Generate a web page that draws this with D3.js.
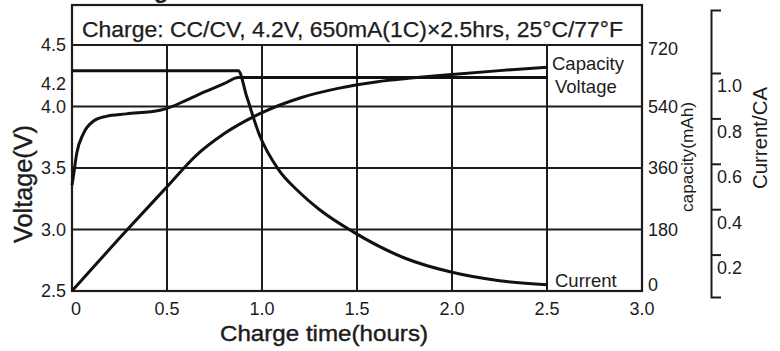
<!DOCTYPE html>
<html>
<head>
<meta charset="utf-8">
<script src="https://cdn.jsdelivr.net/npm/d3@7"></script>
<style>
  html, body { margin: 0; padding: 0; background: #fff; }
  svg { display: block; font-family: "Liberation Sans", Arial, sans-serif; }
</style>
</head>
<body>
<svg id="chart" width="780" height="351"></svg>
<script>
// Charge curve of a 650 mAh cell at CC/CV 4.2 V, 1C.
const titleText = "Charge: CC/CV, 4.2V, 650mA(1C)\u00D72.5hrs, 25\u00B0C/77\u00B0F";
const headerText = "Charge Characteristics";

// Time axis (hours)
const timeTicks = [0, 0.5, 1.0, 1.5, 2.0, 2.5, 3.0];
// Voltage axis (V)
const voltageTicks = [2.5, 3.0, 3.5, 4.0, 4.2, 4.5];
const voltageGrid = [3.0, 3.5, 4.0];
// Capacity axis (mAh)
const capacityTicks = [0, 180, 360, 540, 720];
// Current axis (C)
const currentTicks = [0.2, 0.4, 0.6, 0.8, 1.0];

// Voltage vs time
const voltageTime = [0, 0.007, 0.025, 0.06, 0.112, 0.18, 0.286, 0.463, 0.5, 0.6, 0.7, 0.8, 0.875, 1.5, 2.0, 2.5];
const voltage     = [3.36, 3.43, 3.62, 3.78, 3.88, 3.92, 3.94, 3.97, 3.985, 4.05, 4.12, 4.185, 4.235, 4.235, 4.235, 4.235];

// Capacity vs time
const capacityTime = [0, 0.3, 0.5, 0.65, 0.8, 1.0, 1.2, 1.4, 1.6, 1.8, 2.0, 2.25, 2.5];
const capacity     = [0, 185, 305, 395, 460, 522, 565, 593, 612, 624, 634, 645, 655];

// Current vs time
const currentTime = [0, 0.875, 0.92, 0.99, 1.084, 1.19, 1.3, 1.48, 1.75, 2.0, 2.25, 2.5];
const current     = [1.01, 1.01, 0.895, 0.72, 0.578, 0.48, 0.40, 0.30, 0.185, 0.122, 0.085, 0.067];

const ink = "#1c1c1c";
const svg = d3.select("#chart");

const plot = { left: 72, right: 642, top: 45, bottom: 291, boxTop: 5 };

const x = d3.scaleLinear().domain([0, 3]).range([plot.left, plot.right]);
const yV = d3.scaleLinear().domain([2.5, 4.5]).range([plot.bottom, plot.top]);
const yCap = d3.scaleLinear().domain([0, 720]).range([plot.bottom, plot.top]);
const yCur = d3.scaleLinear().domain([0, 1]).range([300, 73]);

// Header above the frame (runs off the top edge)
svg.append("text")
  .attr("x", 99).attr("y", -2)
  .attr("font-size", 24).attr("font-weight", "bold")
  .attr("fill", ink)
  .text(headerText);

// Grid
const grid = svg.append("g").attr("stroke", ink).attr("stroke-width", 2);
grid.selectAll("line.v").data(timeTicks.filter(t => t > 0 && t < 3)).join("line")
  .attr("class", "v")
  .attr("x1", d => x(d)).attr("x2", d => x(d))
  .attr("y1", plot.top).attr("y2", plot.bottom);
grid.selectAll("line.h").data(voltageGrid).join("line")
  .attr("class", "h")
  .attr("x1", plot.left).attr("x2", plot.right)
  .attr("y1", d => yV(d)).attr("y2", d => yV(d));

// Frame with title strip
svg.append("rect")
  .attr("x", plot.left).attr("y", plot.boxTop)
  .attr("width", plot.right - plot.left).attr("height", plot.bottom - plot.boxTop)
  .attr("fill", "none").attr("stroke", ink).attr("stroke-width", 2.2);
svg.append("line")
  .attr("x1", plot.left).attr("x2", plot.right)
  .attr("y1", yV(4.5)).attr("y2", yV(4.5))
  .attr("stroke", ink).attr("stroke-width", 2.2);

svg.append("text")
  .attr("x", 82).attr("y", 37)
  .attr("font-size", 21.5)
  .attr("fill", ink).attr("stroke", ink).attr("stroke-width", 0.25)
  .attr("textLength", 541).attr("lengthAdjust", "spacingAndGlyphs")
  .text(titleText);

// Curves
const curveLine = (xs, ys, yScale) => d3.line()
  .x((d, i) => x(xs[i]))
  .y(d => yScale(d))
  .curve(d3.curveMonotoneX)(ys);

const curves = svg.append("g")
  .attr("fill", "none").attr("stroke", "#111")
  .attr("stroke-width", 3).attr("stroke-linejoin", "round");
curves.append("path").attr("d", curveLine(voltageTime, voltage, yV));
curves.append("path").attr("d", curveLine(capacityTime, capacity, yCap));
curves.append("path").attr("d", curveLine(currentTime, current, yCur));

// Series labels
const seriesLabels = svg.append("g").attr("font-size", 18.5).attr("fill", ink);
seriesLabels.append("text").attr("x", 552).attr("y", 70).text("Capacity");
seriesLabels.append("text").attr("x", 555).attr("y", 93).text("Voltage");
seriesLabels.append("text").attr("x", 555).attr("y", 287).text("Current");

// Left voltage tick labels
svg.append("g").attr("font-size", 18).attr("fill", ink).attr("text-anchor", "end")
  .selectAll("text").data(voltageTicks).join("text")
  .attr("x", 66)
  .attr("y", d => yV(d) + (d === 4.2 ? 2 : 0))
  .attr("dy", "0.36em")
  .text(d => d3.format(".1f")(d));

// Bottom time tick labels
svg.append("g").attr("font-size", 18).attr("fill", ink).attr("text-anchor", "middle")
  .selectAll("text").data(timeTicks).join("text")
  .attr("x", d => x(d) + (d === 0 ? 4 : 0))
  .attr("y", 315)
  .text(d => d === 0 ? "0" : d3.format(".1f")(d));

// Right capacity tick labels
svg.append("g").attr("font-size", 18).attr("fill", ink).attr("text-anchor", "start")
  .selectAll("text").data(capacityTicks).join("text")
  .attr("x", 648)
  .attr("y", d => Math.max(49, Math.min(285, yCap(d))))
  .attr("dy", "0.36em")
  .text(d => d);

// Current axis (bracket style)
const curAxisScale = yCur.copy().domain([yCur.invert(297), yCur.invert(10)]).range([297, 10]);
const curAxis = svg.append("g")
  .attr("transform", "translate(711,0)")
  .call(d3.axisRight(curAxisScale).tickValues(currentTicks).tickSize(10).tickSizeOuter(10).tickFormat(""));
curAxis.selectAll("path, line").attr("stroke", ink).attr("stroke-width", 2);
svg.append("g").attr("font-size", 18).attr("fill", ink)
  .selectAll("text").data(currentTicks).join("text")
  .attr("x", 717)
  .attr("y", d => yCur(d) + 13)
  .attr("dy", "0.36em")
  .text(d => d3.format(".1f")(d));

// Axis titles
svg.append("text")
  .attr("x", 324).attr("y", 341)
  .attr("font-size", 22).attr("text-anchor", "middle")
  .attr("fill", ink).attr("stroke", ink).attr("stroke-width", 0.4)
  .attr("textLength", 208).attr("lengthAdjust", "spacingAndGlyphs")
  .text("Charge time(hours)");

svg.append("text")
  .attr("transform", "translate(32,184) rotate(-90)")
  .attr("font-size", 25).attr("text-anchor", "middle")
  .attr("fill", ink).attr("stroke", ink).attr("stroke-width", 0.4)
  .attr("textLength", 118).attr("lengthAdjust", "spacingAndGlyphs")
  .text("Voltage(V)");

svg.append("text")
  .attr("transform", "translate(693,157) rotate(-90)")
  .attr("font-size", 17).attr("text-anchor", "middle")
  .attr("fill", ink)
  .attr("textLength", 110).attr("lengthAdjust", "spacingAndGlyphs")
  .text("capacity(mAh)");

svg.append("text")
  .attr("transform", "translate(767,138) rotate(-90)")
  .attr("font-size", 20).attr("text-anchor", "middle")
  .attr("fill", ink)
  .attr("textLength", 102).attr("lengthAdjust", "spacingAndGlyphs")
  .text("Current/CA");
</script>
</body>
</html>
